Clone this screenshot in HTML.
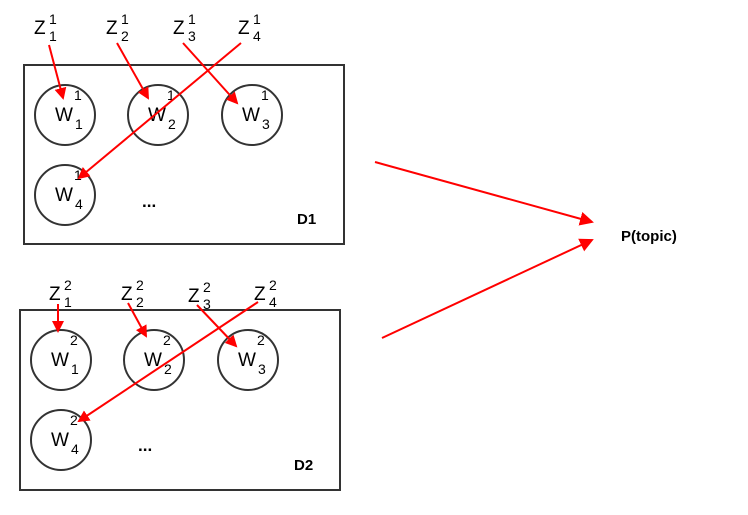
<!DOCTYPE html>
<html><head><style>body{margin:0;background:#fff}</style></head><body>
<svg width="748" height="510" xmlns="http://www.w3.org/2000/svg" font-family="Liberation Sans, sans-serif">
<defs><marker id="a" markerWidth="12" markerHeight="12" refX="10" refY="6" orient="auto" markerUnits="userSpaceOnUse"><path d="M0,0 L12,6 L0,12 z" fill="#f00"/></marker>
<marker id="b" markerWidth="14" markerHeight="14" refX="12" refY="7" orient="auto" markerUnits="userSpaceOnUse"><path d="M0,0 L14,7 L0,14 z" fill="#f00"/></marker></defs>
<g fill="none" stroke="#333" stroke-width="2">
<rect x="24" y="65" width="320" height="179"/>
<circle cx="65" cy="115" r="30"/><circle cx="158" cy="115" r="30"/><circle cx="252" cy="115" r="30"/><circle cx="65" cy="195" r="30"/>
<rect x="20" y="310" width="320" height="180"/>
<circle cx="61" cy="360" r="30"/><circle cx="154" cy="360" r="30"/><circle cx="248" cy="360" r="30"/><circle cx="61" cy="440" r="30"/>
</g>
<g font-size="19" fill="#000">
<text x="34" y="34">Z</text><text x="49" y="24" font-size="14">1</text><text x="49" y="41" font-size="14">1</text>
<text x="106" y="34">Z</text><text x="121" y="24" font-size="14">1</text><text x="121" y="41" font-size="14">2</text>
<text x="173" y="34">Z</text><text x="188" y="24" font-size="14">1</text><text x="188" y="41" font-size="14">3</text>
<text x="238" y="34">Z</text><text x="253" y="24" font-size="14">1</text><text x="253" y="41" font-size="14">4</text>
<text x="55" y="121">W</text><text x="74" y="100" font-size="14">1</text><text x="75" y="129" font-size="14">1</text>
<text x="148" y="121">W</text><text x="167" y="100" font-size="14">1</text><text x="168" y="129" font-size="14">2</text>
<text x="242" y="121">W</text><text x="261" y="100" font-size="14">1</text><text x="262" y="129" font-size="14">3</text>
<text x="55" y="201">W</text><text x="74" y="180" font-size="14">1</text><text x="75" y="209" font-size="14">4</text>
<text x="49" y="300">Z</text><text x="64" y="290" font-size="14">2</text><text x="64" y="307" font-size="14">1</text>
<text x="121" y="300">Z</text><text x="136" y="290" font-size="14">2</text><text x="136" y="307" font-size="14">2</text>
<text x="188" y="302">Z</text><text x="203" y="292" font-size="14">2</text><text x="203" y="309" font-size="14">3</text>
<text x="254" y="300">Z</text><text x="269" y="290" font-size="14">2</text><text x="269" y="307" font-size="14">4</text>
<text x="51" y="366">W</text><text x="70" y="345" font-size="14">2</text><text x="71" y="374" font-size="14">1</text>
<text x="144" y="366">W</text><text x="163" y="345" font-size="14">2</text><text x="164" y="374" font-size="14">2</text>
<text x="238" y="366">W</text><text x="257" y="345" font-size="14">2</text><text x="258" y="374" font-size="14">3</text>
<text x="51" y="446">W</text><text x="70" y="425" font-size="14">2</text><text x="71" y="454" font-size="14">4</text>
</g>
<g font-size="15" font-weight="bold">
<text x="142" y="207" font-size="17">...</text><text x="297" y="224">D1</text>
<text x="138" y="451" font-size="17">...</text><text x="294" y="470">D2</text>
<text x="621" y="241">P(topic)</text>
</g>
<g stroke="#f00" stroke-width="2" marker-end="url(#a)">
<line x1="49" y1="45" x2="63" y2="98"/><line x1="117" y1="43" x2="148" y2="98"/>
<line x1="183" y1="43" x2="237" y2="103"/><line x1="241" y1="43" x2="79" y2="178"/>
<line x1="58" y1="304" x2="58" y2="331"/><line x1="128" y1="303" x2="146" y2="336"/>
<line x1="197" y1="305" x2="236" y2="346"/><line x1="258" y1="302" x2="79" y2="421"/>
</g>
<g stroke="#f00" stroke-width="2" marker-end="url(#b)">
<line x1="375" y1="162" x2="592" y2="222"/><line x1="382" y1="338" x2="592" y2="240"/>
</g>
</svg>
</body></html>
